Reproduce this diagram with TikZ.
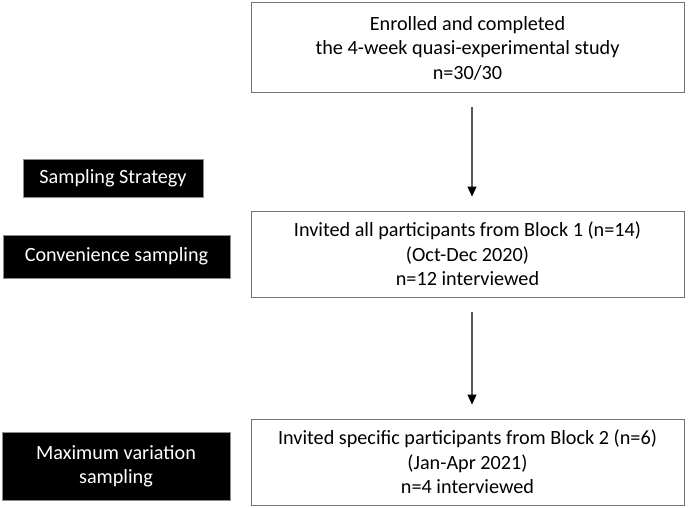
\documentclass[tikz,border=0pt]{standalone}
\usepackage{fontspec}
\setmainfont{Carlito}
\usetikzlibrary{arrows.meta}
\begin{document}
\begin{tikzpicture}[x=1pt,y=-1pt,
  flowbox/.style={draw=black!55, line width=1pt, fill=white, align=center, inner sep=0pt,
    font=\fontsize{20.2}{24.5}\selectfont, minimum width=433pt},
  labelbox/.style={draw=black!45, line width=0.8pt, fill=black, text=white, align=center, inner sep=0pt,
    font=\fontsize{20.2}{24.5}\selectfont},
  flowarrow/.style={draw=black!65, line width=1.2pt, -{Triangle[width=9pt,length=10pt,color=black]}, shorten <=14pt, shorten >=14pt}]
\useasboundingbox (0,0) rectangle (688,508);
\node[flowbox, minimum height=90pt] (b1) at (467.5,48) {Enrolled and completed\\the 4-week quasi-experimental study\\n=30/30};
\node[flowbox, minimum height=86pt] (b2) at (467.5,254) {Invited all participants from Block 1 (n=14)\\(Oct-Dec 2020)\\n=12 interviewed};
\node[flowbox, minimum height=86pt] (b3) at (467.5,462) {Invited specific participants from Block 2 (n=6)\\(Jan-Apr 2021)\\n=4 interviewed};
\node[labelbox, minimum width=180pt, minimum height=38pt] (s0) at (113,178) {Sampling Strategy};
\node[labelbox, minimum width=227pt, minimum height=43pt] (s1) at (116.5,256.5) {Convenience sampling};
\node[labelbox, minimum width=228pt, minimum height=68pt] (s2) at (116,466) {Maximum variation\\sampling};
\draw[flowarrow] ([xshift=4.5pt]b1.south) -- ([xshift=4.5pt]b2.north);
\draw[flowarrow] ([xshift=4.5pt]b2.south) -- ([xshift=4.5pt]b3.north);
\end{tikzpicture}
\end{document}
